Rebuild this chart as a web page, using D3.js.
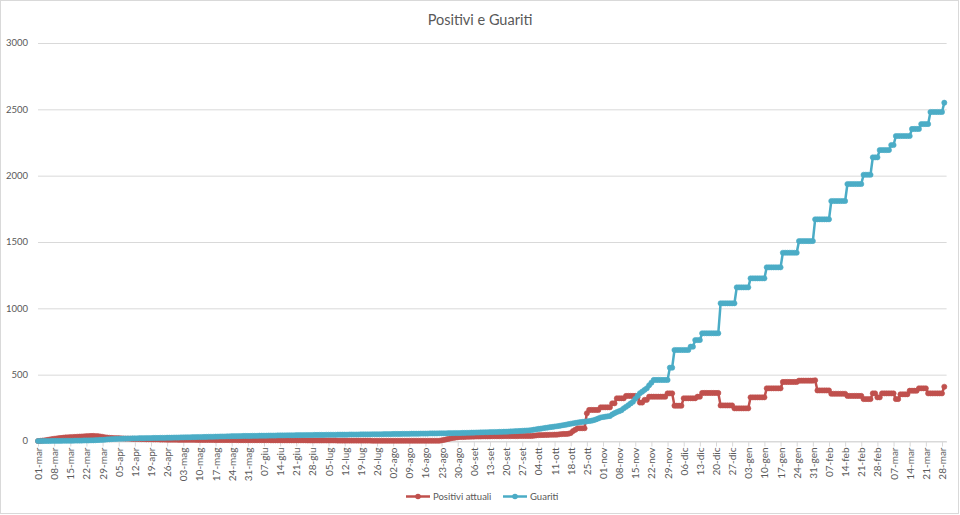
<!DOCTYPE html>
<html>
<head>
<meta charset="utf-8">
<script src="https://cdn.jsdelivr.net/npm/d3@7"></script>
<style>
  html, body { margin: 0; padding: 0; background: #fff; }
  svg { display: block; font-family: Lato, "Open Sans", sans-serif; }
</style>
</head>
<body>
<svg id="chart" width="960" height="515"></svg>
<script>
// ---------------- DATA ----------------
const title = "Positivi e Guariti";
const seriesNames = ["Positivi attuali", "Guariti"];
const startDate = "2020-03-01";   // first category
const endDate = "2021-03-29";     // last category (daily categories)
const yTicks = [0, 500, 1000, 1500, 2000, 2500, 3000];
const tickLabels = [
  "01-mar","08-mar","15-mar","22-mar","29-mar",
  "05-apr","12-apr","19-apr","26-apr",
  "03-mag","10-mag","17-mag","24-mag","31-mag",
  "07-giu","14-giu","21-giu","28-giu",
  "05-lug","12-lug","19-lug","26-lug",
  "02-ago","09-ago","16-ago","23-ago","30-ago",
  "06-set","13-set","20-set","27-set",
  "04-ott","11-ott","18-ott","25-ott",
  "01-nov","08-nov","15-nov","22-nov","29-nov",
  "06-dic","13-dic","20-dic","27-dic",
  "03-gen","10-gen","17-gen","24-gen","31-gen",
  "07-feb","14-feb","21-feb","28-feb",
  "07-mar","14-mar","21-mar","28-mar"
];

// Positivi attuali, one value per day (one line per month)
const positiviAttuali = [
  /* mar 20 */ 0,1,3,5,8,11,14,17,19,21,23,25,27,28,29,30,31,32,33,34,35,36,37,38,38,37,36,34,31,28,26,
  /* apr 20 */ 24,23,22,21,21,20,19,18,18,17,16,16,15,15,14,14,13,13,13,12,12,12,11,11,11,10,10,10,10,10,
  /* mag 20 */ 9,9,9,9,9,9,9,9,8,8,8,8,8,8,8,8,7,7,7,7,7,7,7,7,7,7,6,6,6,6,6,
  /* giu 20 */ 6,6,6,6,6,6,6,6,6,5,5,5,5,5,5,5,5,5,5,5,5,5,5,5,5,4,4,4,4,4,
  /* lug 20 */ 4,4,4,4,4,4,4,4,3,3,3,3,3,3,3,3,3,3,3,3,3,3,3,2,2,2,2,2,2,2,2,
  /* ago 20 */ 2,2,2,2,2,2,2,2,2,2,2,2,2,2,2,2,2,2,2,2,2,2,5,8,12,16,20,23,26,28,30,
  /* set 20 */ 30,31,32,32,33,33,34,34,34,35,35,35,35,36,36,36,36,36,37,37,37,37,37,37,37,38,38,38,38,38,
  /* ott 20 */ 38,40,42,44,45,45,46,46,47,47,48,48,50,52,53,53,55,60,75,85,96,96,96,96,209,234,234,234,234,234,254,
  /* nov 20 */ 254,254,254,254,284,284,322,322,322,322,340,340,340,340,340,330,290,290,310,310,334,334,334,334,334,334,334,334,359,359,
  /* dic 20 */ 359,266,266,266,266,322,322,322,322,322,322,334,334,362,362,362,362,362,362,362,362,268,268,268,268,268,268,246,246,246,246,
  /* gen 21 */ 246,246,246,329,329,329,329,329,329,329,397,397,397,397,397,397,397,445,445,445,445,445,445,445,455,455,455,455,455,455,455,
  /* feb 21 */ 458,381,381,381,381,381,381,356,356,356,356,356,356,356,340,340,340,340,340,340,340,316,316,316,316,359,359,329,
  /* mar 21 */ 329,359,359,359,359,359,359,316,316,352,352,352,352,379,379,379,379,397,397,397,397,359,359,359,359,359,359,359,409
];

// Guariti, one value per day (one line per month)
const guariti = [
  /* mar 20 */ 0,0,0,0,0,0,1,1,1,1,1,2,2,2,2,2,3,3,3,3,4,4,4,5,5,6,7,8,9,10,12,
  /* apr 20 */ 13,14,15,16,17,17,18,18,19,19,20,20,20,21,21,21,22,22,22,23,23,23,24,24,24,25,25,25,26,26,
  /* mag 20 */ 26,27,27,28,28,28,29,29,30,30,30,31,31,32,32,32,33,33,34,34,34,35,35,36,36,36,37,37,38,38,38,
  /* giu 20 */ 38,39,39,39,40,40,40,40,41,41,41,41,42,42,42,42,43,43,43,43,44,44,44,44,45,45,45,45,46,46,
  /* lug 20 */ 46,46,46,47,47,47,47,47,48,48,48,48,48,49,49,49,49,49,50,50,50,50,50,51,51,51,51,51,52,52,52,
  /* ago 20 */ 52,53,53,53,53,54,54,54,54,55,55,55,55,56,56,56,56,57,57,57,57,58,58,58,58,59,59,59,60,60,60,
  /* set 20 */ 61,61,62,62,63,63,64,64,65,65,66,66,67,67,68,68,69,69,70,70,71,72,73,74,75,76,77,78,79,80,
  /* ott 20 */ 82,85,88,91,93,96,99,101,104,106,109,111,114,117,120,123,127,130,133,136,139,142,144,146,148,150,153,157,163,170,177,
  /* nov 20 */ 180,183,186,188,200,210,218,225,232,246,258,270,283,296,318,340,360,372,385,397,420,440,460,460,460,460,460,460,460,553,
  /* dic 20 */ 553,686,686,686,686,686,686,686,711,711,761,761,761,812,812,812,812,812,812,812,812,1038,1038,1038,1038,1038,1038,1038,1158,1158,1158,
  /* gen 21 */ 1158,1158,1158,1226,1226,1226,1226,1226,1226,1226,1309,1309,1309,1309,1309,1309,1309,1419,1419,1419,1419,1419,1419,1419,1507,1507,1507,1507,1507,1507,1507,
  /* feb 21 */ 1671,1671,1671,1671,1671,1671,1671,1809,1809,1809,1809,1809,1809,1809,1937,1937,1937,1937,1937,1937,1937,2007,2007,2007,2007,2138,2138,2138,
  /* mar 21 */ 2193,2193,2193,2193,2193,2231,2231,2299,2299,2299,2299,2299,2299,2299,2352,2352,2352,2352,2389,2389,2389,2389,2480,2480,2480,2480,2480,2480,2550
];

const colors = ["#C0504D", "#4BACC6"];

// ---------------- CHART ----------------
const svg = d3.select("#chart");
const W = 960, H = 515;
const margin = { left: 38, right: 13.4, top: 43, bottom: 74 };

svg.append("rect").attr("x", 0.5).attr("y", 0.5).attr("width", W - 2).attr("height", H - 2)
  .attr("fill", "#fff").attr("stroke", "#D9D9D9");

const parse = d3.utcParse("%Y-%m-%d");
const d0 = parse(startDate), d1 = parse(endDate);
const categories = d3.utcDay.range(d0, d3.utcDay.offset(d1, 1));
const axisEnd = d3.utcDay.offset(d1, 1);

const x = d3.scaleUtc().domain([d0, axisEnd]).range([margin.left, W - margin.right]);
const y = d3.scaleLinear().domain([0, 3000]).range([H - margin.bottom, margin.top]);

// gridlines
svg.append("g").selectAll("line").data(yTicks).join("line")
  .attr("x1", margin.left).attr("x2", W - margin.right)
  .attr("y1", d => y(d) + 0.5).attr("y2", d => y(d) + 0.5)
  .attr("stroke", "#D9D9D9").attr("stroke-width", 1);

// y labels
svg.append("g").selectAll("text").data(yTicks).join("text")
  .attr("x", 28).attr("y", d => y(d)).attr("dy", "0.35em")
  .attr("text-anchor", "end").attr("font-size", 9.5).attr("fill", "#595959")
  .text(d => d);

// x axis (tick every 7 categories)
const tickDates = tickLabels.map((_, i) => categories[i * 7]);
const xAxis = d3.axisBottom(x)
  .tickValues(tickDates)
  .tickFormat((d, i) => tickLabels[i])
  .tickSizeInner(5).tickSizeOuter(0).tickPadding(3);
const gx = svg.append("g").attr("transform", `translate(0,${y(0) + 0.5})`).call(xAxis);
gx.select(".domain").attr("stroke", "#D9D9D9");
gx.selectAll(".tick line").attr("stroke", "#D9D9D9");
gx.selectAll(".tick text")
  .attr("font-size", 10).attr("fill", "#595959")
  .attr("font-family", "Lato, sans-serif")
  .attr("transform", "rotate(-90)")
  .attr("text-anchor", "end")
  .attr("x", -6).attr("y", 0).attr("dy", "0.35em");

// series
const allSeries = [positiviAttuali, guariti];
allSeries.forEach((vals, si) => {
  const pts = vals.map((v, i) => [categories[i], v]);
  const line = d3.line().x(d => x(d[0])).y(d => y(d[1]));
  const g = svg.append("g");
  g.append("path").datum(pts).attr("d", line)
    .attr("fill", "none").attr("stroke", colors[si]).attr("stroke-width", 2.5)
    .attr("stroke-linejoin", "round");
  g.selectAll("circle").data(pts).join("circle")
    .attr("cx", d => x(d[0])).attr("cy", d => y(d[1])).attr("r", 2.6)
    .attr("fill", colors[si]).attr("stroke", colors[si]).attr("stroke-width", 0.6);
});

// title
svg.append("text").attr("x", 480).attr("y", 25).attr("text-anchor", "middle")
  .attr("font-size", 14.5).attr("fill", "#595959").text(title);

// legend
const legendY = 496.5;
const legendItems = [
  { name: seriesNames[0], color: colors[0], x: 406 },
  { name: seriesNames[1], color: colors[1], x: 503 }
];
legendItems.forEach(it => {
  svg.append("line").attr("x1", it.x).attr("x2", it.x + 24)
    .attr("y1", legendY).attr("y2", legendY)
    .attr("stroke", it.color).attr("stroke-width", 2.5);
  svg.append("circle").attr("cx", it.x + 12).attr("cy", legendY).attr("r", 2.8).attr("fill", it.color);
  svg.append("text").attr("x", it.x + 27).attr("y", legendY).attr("dy", "0.35em")
    .attr("font-size", 9.5).attr("fill", "#595959").text(it.name);
});
</script>
</body>
</html>
